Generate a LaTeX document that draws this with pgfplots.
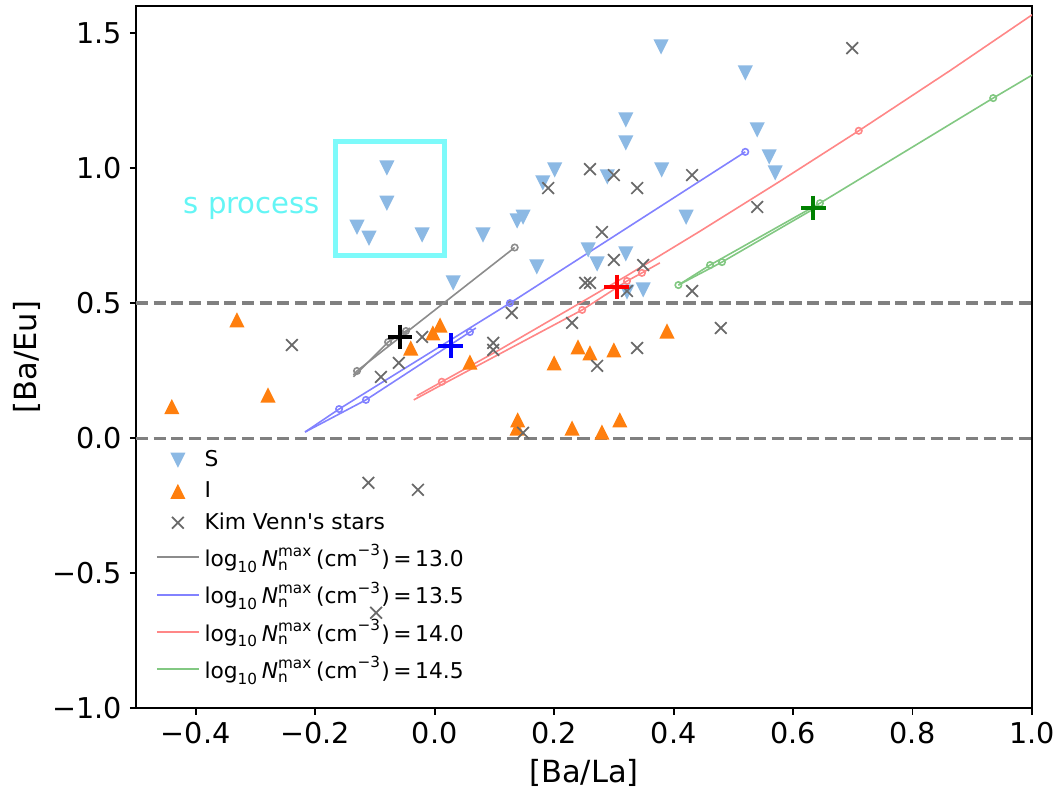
\documentclass[border=0pt]{standalone}
\usepackage{fontspec}
\setmainfont{DejaVu Sans}
\usepackage{amsmath}
\usepackage{pgfplots}
\pgfplotsset{compat=1.18}

\definecolor{sblue}{RGB}{140,185,228}
\definecolor{iorange}{RGB}{255,127,14}
\definecolor{kgray}{RGB}{105,105,105}
\definecolor{lgray}{RGB}{140,140,140}
\definecolor{lblue}{RGB}{130,130,255}
\definecolor{lred}{RGB}{255,135,135}
\definecolor{lgreen}{RGB}{130,200,130}
\definecolor{boxcyan}{RGB}{125,250,250}
\definecolor{txtcyan}{RGB}{100,245,245}
\definecolor{dashgray}{RGB}{128,128,128}
\definecolor{pgreen}{RGB}{0,128,0}

\pgfdeclareplotmark{tdown}{%
  \pgfpathmoveto{\pgfqpoint{0pt}{-\pgfplotmarksize}}%
  \pgfpathlineto{\pgfqpoint{-\pgfplotmarksize}{\pgfplotmarksize}}%
  \pgfpathlineto{\pgfqpoint{\pgfplotmarksize}{\pgfplotmarksize}}%
  \pgfpathclose\pgfusepathqfill}
\pgfdeclareplotmark{tup}{%
  \pgfpathmoveto{\pgfqpoint{0pt}{\pgfplotmarksize}}%
  \pgfpathlineto{\pgfqpoint{-\pgfplotmarksize}{-\pgfplotmarksize}}%
  \pgfpathlineto{\pgfqpoint{\pgfplotmarksize}{-\pgfplotmarksize}}%
  \pgfpathclose\pgfusepathqfill}

\pgfplotsset{
  markleg/.style={legend image code/.code={\draw[##1] plot coordinates {(9.15pt,0pt)};}},
  lineleg/.style={legend image code/.code={\draw[##1, line width=0.9pt] (0pt,0pt) -- (18.3pt,0pt);}},
}

\newcommand{\nlab}[1]{$\text{log}_{\text{10}}\,\textit{N}^{\text{max}}_{\text{n}}\,\text{(cm}^{\text{−3}}\text{)}\,\text{=}\,\text{#1}$}

\begin{document}
\begin{tikzpicture}
\begin{axis}[name=ax, scale only axis, width=390.7pt, height=306.3pt,
  xmin=-0.5, xmax=1.0, ymin=-1.0, ymax=1.6,
  xtick={-0.4,-0.2,0,0.2,0.4,0.6,0.8,1.0},
  xticklabels={−0.4,−0.2,0.0,0.2,0.4,0.6,0.8,1.0},
  ytick={-1,-0.5,0,0.5,1,1.5},
  yticklabels={−1.0,−0.5,0.0,0.5,1.0,1.5},
  tick label style={font=\fontsize{12.5}{15}\selectfont},
  xtick pos=bottom, ytick pos=left, tick align=outside,
  major tick length=2.7pt,
  every tick/.style={black, line width=0.8pt},
  axis line style={line width=0.8pt},
  xlabel={[Ba/La]}, ylabel={[Ba/Eu]},
  label style={font=\fontsize{13.3}{16}\selectfont},
  xlabel style={at={(axis description cs:0.5,-0.0918)}, anchor=center},
  ylabel style={at={(axis description cs:-0.1215,0.5)}, anchor=center},
  legend style={at={(axis description cs:0.014,0.381)}, anchor=north west,
    draw=none, fill=none, font=\fontsize{9.5}{11.5}\selectfont, row sep=1.1pt,
    /tikz/column 2/.style={column sep=2.5pt}},
  legend cell align=left,
]
% legend entries
\addlegendimage{only marks, mark=tdown, mark size=3.3pt, color=sblue, markleg}
\addlegendentry{S}
\addlegendimage{only marks, mark=tup, mark size=3.3pt, color=iorange, markleg}
\addlegendentry{I}
\addlegendimage{only marks, mark=x, mark size=3.6pt, color=kgray, line width=0.75pt, markleg}
\addlegendentry{Kim Venn\textquotesingle s stars}
\addlegendimage{lgray, lineleg}
\addlegendentry{\nlab{13.0}}
\addlegendimage{lblue, lineleg}
\addlegendentry{\nlab{13.5}}
\addlegendimage{lred, lineleg}
\addlegendentry{\nlab{14.0}}
\addlegendimage{lgreen, lineleg}
\addlegendentry{\nlab{14.5}}

% dashed reference lines
\addplot[forget plot, dashgray, line width=1.5pt, dash pattern=on 5.3pt off 2.4pt] coordinates {(-0.5,0.5) (1.0,0.5)};
\addplot[forget plot, dashgray, line width=1.5pt, dash pattern=on 5.3pt off 2.4pt] coordinates {(-0.5,0.0) (1.0,0.0)};

% s-process box
\addplot[forget plot, boxcyan, line width=2.2pt, line join=miter] coordinates {(-0.166,1.098) (0.016,1.098) (0.016,0.678) (-0.166,0.678) (-0.166,1.098) (0.016,1.098)};
\node[anchor=west, text=txtcyan, font=\fontsize{12.7}{15}\selectfont, inner sep=0pt] at (axis cs:-0.421,0.852) {s process};

% model curves
\addplot[forget plot, lgray, line width=0.7pt, mark=o, mark size=1.4pt, mark indices={2,3}] coordinates {(-0.136,0.234) (-0.130,0.249) (0.134,0.706)};
\addplot[forget plot, lgray, line width=0.7pt, mark=o, mark size=1.4pt, mark indices={2,3}] coordinates {(-0.136,0.227) (-0.078,0.356) (-0.048,0.397) (-0.041,0.408)};

\addplot[forget plot, lblue, line width=0.7pt, mark=o, mark size=1.4pt, mark indices={2,3,4}] coordinates {(-0.217,0.023) (-0.160,0.108) (0.126,0.500) (0.520,1.060)};
\addplot[forget plot, lblue, line width=0.7pt, mark=o, mark size=1.4pt, mark indices={2,3}] coordinates {(-0.217,0.023) (-0.115,0.142) (0.059,0.393) (0.069,0.408)};

\addplot[forget plot, lred, line width=0.7pt, mark=o, mark size=1.4pt, mark indices={2,8}] coordinates {(-0.030,0.157) (0.012,0.209) (0.109,0.328) (0.247,0.505) (0.322,0.602) (0.444,0.766) (0.578,0.951) (0.710,1.138) (0.863,1.361) (1.000,1.567)};
\addplot[forget plot, lred, line width=0.7pt, mark=o, mark size=1.4pt, mark indices={3,4,5}] coordinates {(-0.035,0.142) (0.012,0.198) (0.247,0.475) (0.322,0.582) (0.347,0.612) (0.377,0.649)};

\addplot[forget plot, lgreen, line width=0.7pt, mark=o, mark size=1.4pt, mark indices={1,2,3,4}] coordinates {(0.408,0.567) (0.461,0.641) (0.645,0.870) (0.935,1.259) (1.000,1.344)};
\addplot[forget plot, lgreen, line width=0.7pt, mark=o, mark size=1.4pt, mark indices={2}] coordinates {(0.408,0.567) (0.481,0.652) (0.637,0.852)};

% S stars
\addplot[forget plot, only marks, mark=tdown, mark size=3.3pt, color=sblue] coordinates {
(-0.080,1.000) (-0.080,0.870) (-0.130,0.781) (-0.110,0.740) (-0.021,0.752)
(0.081,0.752) (0.138,0.804) (0.148,0.818) (0.031,0.575) (0.171,0.634)
(0.181,0.945) (0.201,0.993) (0.257,0.697) (0.272,0.645) (0.289,0.967)
(0.320,1.178) (0.320,1.093) (0.320,0.682) (0.322,0.541) (0.349,0.549)
(0.379,1.448) (0.380,0.993) (0.421,0.818) (0.520,1.352) (0.540,1.141)
(0.560,1.041) (0.570,0.982)};

% I stars
\addplot[forget plot, only marks, mark=tup, mark size=3.3pt, color=iorange] coordinates {
(-0.440,0.117) (-0.331,0.438) (-0.279,0.160) (-0.040,0.334) (-0.003,0.390)
(0.009,0.419) (0.059,0.282) (0.200,0.279) (0.240,0.338) (0.260,0.316)
(0.300,0.327) (0.389,0.397) (0.139,0.068) (0.138,0.038) (0.230,0.038)
(0.280,0.023) (0.310,0.068)};

% Kim Venn's stars
\addplot[forget plot, only marks, mark=x, mark size=3.6pt, color=kgray, line width=0.75pt] coordinates {
(-0.239,0.345) (-0.021,0.375) (-0.060,0.279) (-0.090,0.227) (0.129,0.464)
(0.098,0.353) (0.098,0.327) (0.230,0.427) (0.252,0.575) (0.260,0.575)
(0.300,0.660) (0.349,0.641) (0.322,0.545) (0.431,0.545) (0.479,0.408)
(0.339,0.334) (0.272,0.268) (0.148,0.020) (0.260,0.996) (0.190,0.926)
(0.300,0.974) (0.339,0.926) (0.431,0.974) (0.280,0.763) (0.699,1.444)
(0.540,0.856) (-0.111,-0.165) (-0.028,-0.191) (-0.098,-0.646)};

% best-fit crosses
\addplot[forget plot, only marks, mark=+, mark size=5.4pt, line width=1.8pt, color=black] coordinates {(-0.058,0.375)};
\addplot[forget plot, only marks, mark=+, mark size=5.4pt, line width=1.8pt, color=blue] coordinates {(0.027,0.342)};
\addplot[forget plot, only marks, mark=+, mark size=5.4pt, line width=1.8pt, color=red] coordinates {(0.305,0.560)};
\addplot[forget plot, only marks, mark=+, mark size=5.4pt, line width=1.8pt, color=pgreen] coordinates {(0.634,0.852)};
\end{axis}
\pgfresetboundingbox
\useasboundingbox ([xshift=-59.3pt,yshift=-36.8pt]ax.south west) rectangle ([xshift=10.9pt,yshift=2.6pt]ax.north east);
\end{tikzpicture}
\end{document}
